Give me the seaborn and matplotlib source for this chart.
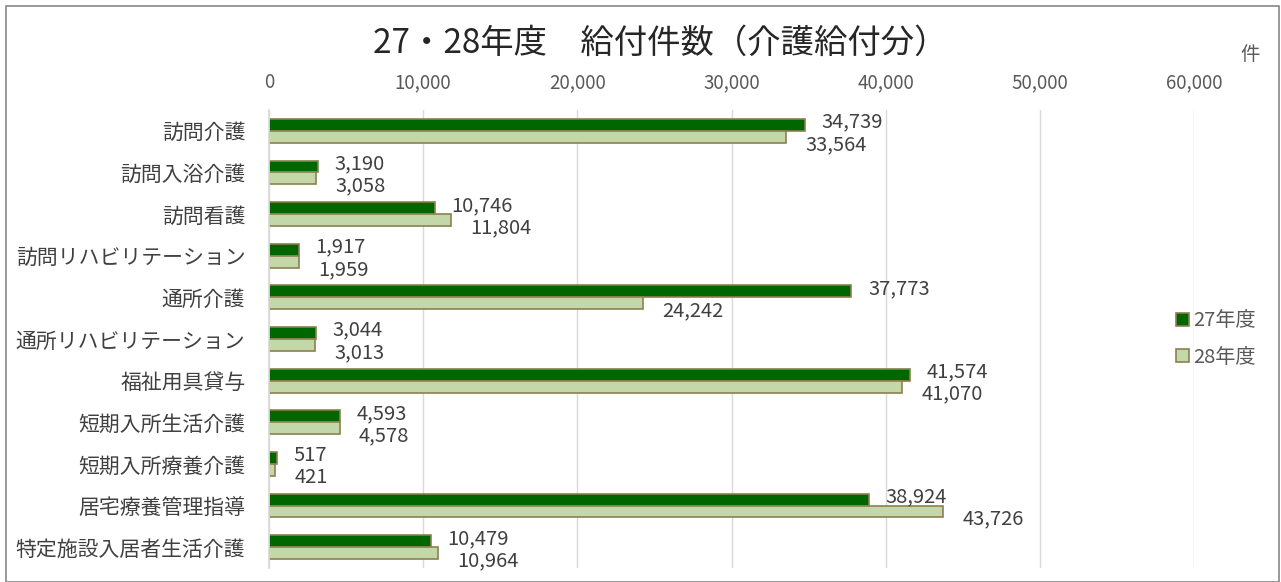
import matplotlib
matplotlib.use("Agg")
import matplotlib.pyplot as plt
import seaborn as sns
import pandas as pd
from matplotlib.ticker import FuncFormatter

categories = ["訪問介護", "訪問入浴介護", "訪問看護", "訪問リハビリテーション", "通所介護",
              "通所リハビリテーション", "福祉用具貸与", "短期入所生活介護", "短期入所療養介護",
              "居宅療養管理指導", "特定施設入居者生活介護"]
fy27 = [34739, 3190, 10746, 1917, 37773, 3044, 41574, 4593, 517, 38924, 10479]
fy28 = [33564, 3058, 11804, 1959, 24242, 3013, 41070, 4578, 421, 43726, 10964]
series = ["27年度", "28年度"]
title = "27・28年度　給付件数（介護給付分）"
unit = "件"

sns.set_theme(style="white")
plt.rcParams['font.family'] = ['Noto Sans CJK JP', 'DejaVu Sans']

df = pd.DataFrame({
    "cat": categories * 2,
    "value": fy27 + fy28,
    "year": [series[0]] * len(categories) + [series[1]] * len(categories),
})

fig = plt.figure(figsize=(12.81, 5.82), dpi=100)
ax = fig.add_axes([269 / 1281, 1 - 568 / 582, (1194 - 269) / 1281, (568 - 110) / 582])

palette = {series[0]: "#006600", series[1]: "#C4D7A8"}
sns.barplot(data=df, y="cat", x="value", hue="year", orient="h", palette=palette,
            width=0.57, edgecolor="#8C8050", linewidth=1.2, ax=ax, legend=True, saturation=1)

ax.set_xlim(0, 60000)
ax.set_xticks(range(0, 60001, 10000))
ax.xaxis.set_major_formatter(FuncFormatter(lambda v, p: f"{int(v):,}"))
ax.xaxis.tick_top()
ax.tick_params(axis="x", length=0, pad=12, labelsize=13.5, colors="#595959")
ax.tick_params(axis="y", length=0, pad=17, labelsize=15, colors="#404040")
ax.grid(axis="x", color="#D9D9D9", linewidth=1)
ax.set_axisbelow(True)
for s in ["top", "right", "bottom"]:
    ax.spines[s].set_visible(False)
ax.spines["left"].set_color("#D9D9D9")
ax.set_xlabel("")
ax.set_ylabel("")

# value labels
for i, container in enumerate(ax.containers):
    dx, dy = (12, 2) if i == 0 else (14, -5.5)
    for bar in container:
        w = bar.get_width()
        yc = bar.get_y() + bar.get_height() / 2
        ax.annotate(f"{int(w):,}", xy=(w, yc), xytext=(dx, dy), textcoords="offset points",
                    ha="left", va="center", fontsize=14.5, color="#404040")

leg = ax.legend(loc="center left", bbox_to_anchor=((1158 - 269) / 925, 0.50), frameon=False,
                fontsize=14.5, handlelength=0.65, handleheight=0.65, labelspacing=0.75,
                handletextpad=0.2, labelcolor="#595959")

fig.text(660 / 1281, 1 - 43 / 582, title, ha="center", va="center", fontsize=24, color="#262626")
fig.text(1250 / 1281, 1 - 55 / 582, unit, ha="center", va="center", fontsize=14, color="#595959")

# outer frame
fig.patches.append(plt.Rectangle((6 / 1281, 0), 1 - 8 / 1281, 1 - 6 / 582, transform=fig.transFigure,
                                 fill=False, edgecolor="#888888", linewidth=1.2))

fig.savefig("out.png", dpi=100)
